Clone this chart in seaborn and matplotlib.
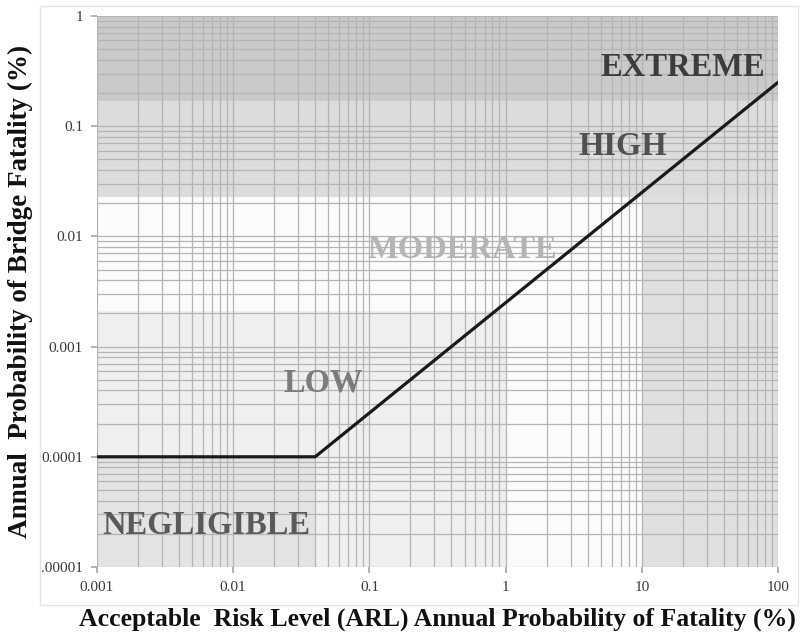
import numpy as np
import pandas as pd
import matplotlib
matplotlib.use("Agg")
import matplotlib.pyplot as plt
import seaborn as sns
from matplotlib.ticker import LogLocator, NullFormatter, FixedLocator, FixedFormatter
from matplotlib.patches import Rectangle

# ARL curve (break point + ends)
arl = [0.001, 0.04, 100]
bridge_prob = [0.0001, 0.0001, 0.25]

x_ticks = [0.001, 0.01, 0.1, 1, 10, 100]
x_ticklabels = ["0.001", "0.01", "0.1", "1", "10", "100"]
y_ticks = [0.00001, 0.0001, 0.001, 0.01, 0.1, 1]
y_ticklabels = [".00001", "0.0001", "0.001", "0.01", "0.1", "1"]

# shaded risk zones: (x0, x1, y0, y1, grey)
zones = [
    (0.001, 100, 0.17, 1, "#cacaca"),       # extreme
    (0.001, 100, 0.023, 0.17, "#dcdcdc"),   # high
    (10, 100, 0.00001, 0.023, "#e0e0e0"),   # high (right)
    (0.001, 10, 0.0021, 0.023, "#fbfbfb"),  # moderate
    (1, 10, 0.00001, 0.0021, "#fbfbfb"),    # moderate
    (0.001, 1, 0.00001, 0.0021, "#efefef"), # low
    (0.001, 0.04, 0.00001, 0.0001, "#e3e3e3"),  # negligible
]

zone_labels = ["EXTREME", "HIGH", "MODERATE", "LOW", "NEGLIGIBLE"]
label_x = [20, 7.3, 0.48, 0.046, 0.0064]
label_y = [0.34, 0.065, 0.0076, 0.00047, 0.000024]
label_colors = ["#3c3c3c", "#505050", "#b4b4b4", "#7c7c7c", "#5a5a5a"]

sns.set_theme(style="white")
plt.rcParams["font.family"] = ["Liberation Serif", "DejaVu Serif"]

fig = plt.figure(figsize=(8.06, 6.37), dpi=100)
# faint frame around the figure
fig.patches.append(Rectangle((0.05, 0.05), 0.94, 0.94, transform=fig.transFigure,
                             fill=False, ec="#e4e4e4", lw=1, zorder=-1))
ax = fig.add_axes([0.1203, 0.1099, 0.845, 0.865])
ax.set_xscale("log")
ax.set_yscale("log")

for x0, x1, y0, y1, c in zones:
    ax.fill_between([x0, x1], y0, y1, color=c, lw=0, zorder=0)

df = pd.DataFrame({"arl": arl, "prob": bridge_prob})
sns.lineplot(data=df, x="arl", y="prob", color="#1a1a1a", lw=2.3, ax=ax, zorder=5)

ax.set_xlim(0.001, 100)
ax.set_ylim(0.00001, 1)
ax.set_axisbelow(True)

ax.xaxis.set_major_locator(FixedLocator(x_ticks))
ax.xaxis.set_major_formatter(FixedFormatter(x_ticklabels))
ax.yaxis.set_major_locator(FixedLocator(y_ticks))
ax.yaxis.set_major_formatter(FixedFormatter(y_ticklabels))
for a in (ax.xaxis, ax.yaxis):
    a.set_minor_locator(LogLocator(base=10, subs=np.arange(2, 10), numticks=20))
    a.set_minor_formatter(NullFormatter())

ax.grid(which="both", color="#b4b4b4", lw=0.9)
ax.tick_params(which="major", length=4, color="#aaaaaa", labelsize=11,
               labelcolor="#3a3a3a", left=True, bottom=True, pad=6)
ax.tick_params(which="minor", length=0)
for s in ax.spines.values():
    s.set_visible(False)

for t, x, y, c in zip(zone_labels, label_x, label_y, label_colors):
    ax.text(x, y, t, color=c, fontsize=23.5, fontweight="bold", ha="center",
            va="center", zorder=6)

ax.set_xlabel("Acceptable  Risk Level (ARL) Annual Probability of Fatality (%)",
              fontsize=18.5, fontweight="bold", color="#111111", labelpad=10)
ax.set_ylabel("Annual  Probability of Bridge Fatality (%)",
              fontsize=19.5, fontweight="bold", color="#111111", labelpad=6)

fig.savefig("out.png", dpi=100)
